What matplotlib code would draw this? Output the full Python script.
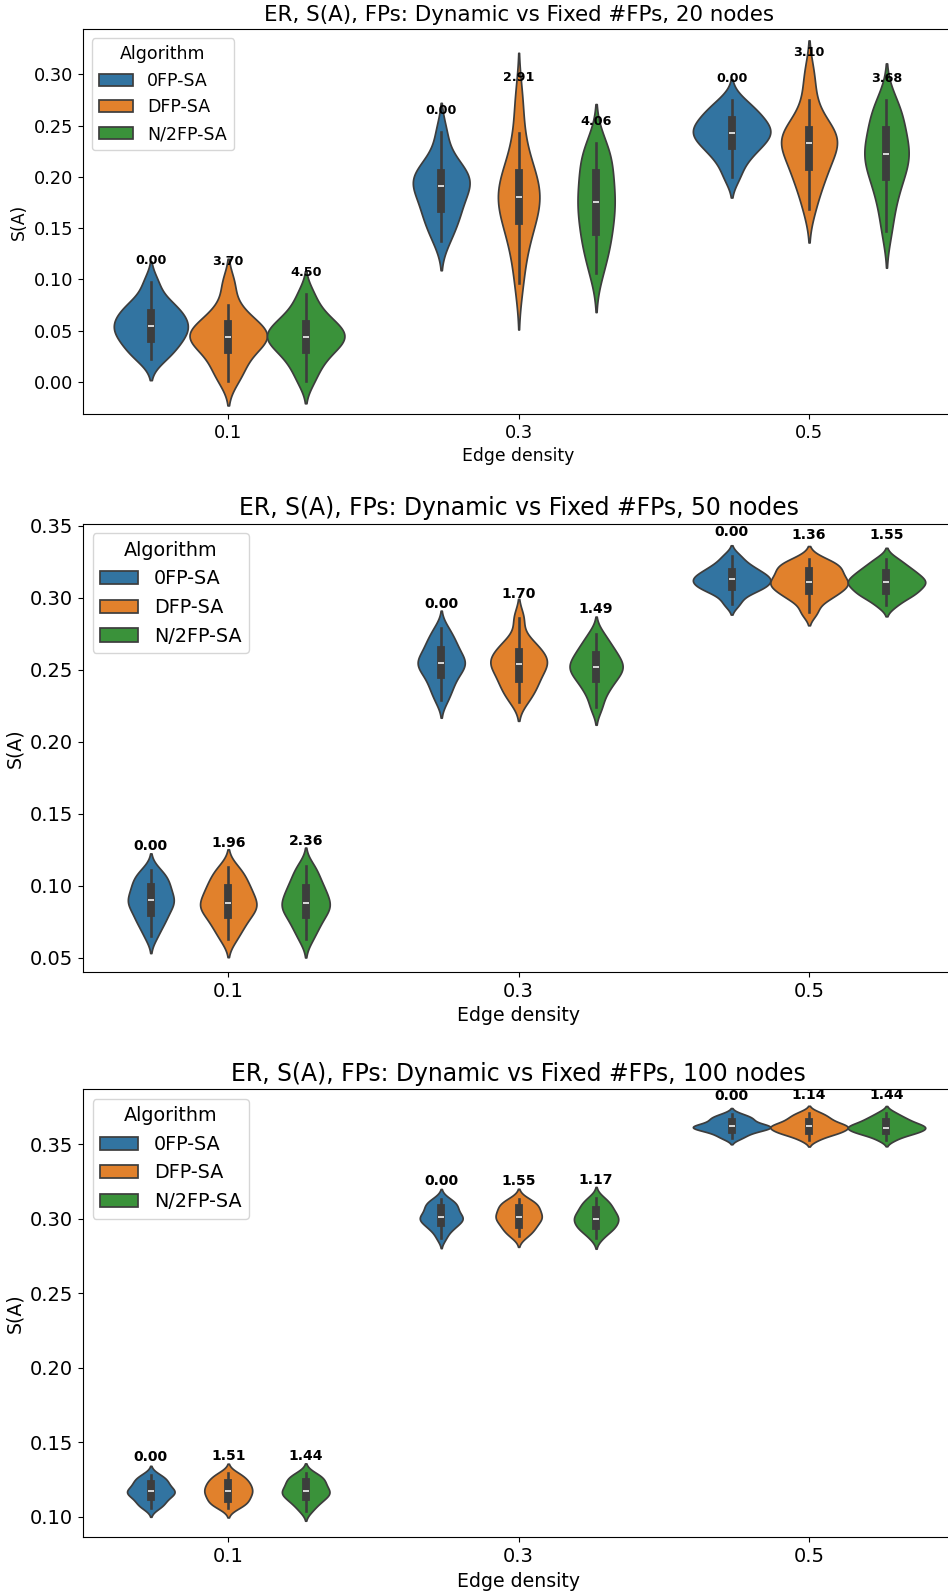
import matplotlib
matplotlib.use("Agg")
import matplotlib.pyplot as plt
import seaborn as sns
import numpy as np
import pandas as pd

densities = ["0.1", "0.3", "0.5"]
algorithms = ["0FP-SA", "DFP-SA", "N/2FP-SA"]
node_counts = [20, 50, 100]

# S(A) samples, one list per edge density (0.1, 0.3, 0.5)
sa20_0fp = [
    [0.022, 0.028, 0.034, 0.039, 0.044, 0.047, 0.051, 0.054, 0.058, 0.062, 0.065, 0.070, 0.075, 0.081, 0.097],
    [0.137, 0.150, 0.158, 0.165, 0.172, 0.179, 0.185, 0.191, 0.194, 0.198, 0.201, 0.206, 0.212, 0.222, 0.244],
    [0.200, 0.214, 0.222, 0.228, 0.232, 0.237, 0.240, 0.243, 0.246, 0.249, 0.253, 0.258, 0.262, 0.267, 0.275],
]
sa20_dfp = [
    [0.001, 0.012, 0.019, 0.029, 0.034, 0.038, 0.041, 0.044, 0.047, 0.050, 0.054, 0.058, 0.064, 0.075, 0.096],
    [0.096, 0.125, 0.140, 0.152, 0.162, 0.169, 0.175, 0.180, 0.186, 0.192, 0.199, 0.208, 0.219, 0.243, 0.276],
    [0.169, 0.188, 0.198, 0.206, 0.214, 0.221, 0.228, 0.233, 0.236, 0.239, 0.243, 0.248, 0.256, 0.275, 0.300],
]
sa20_half = [
    [0.001, 0.014, 0.022, 0.029, 0.034, 0.038, 0.041, 0.044, 0.047, 0.050, 0.054, 0.058, 0.064, 0.072, 0.086],
    [0.106, 0.122, 0.133, 0.142, 0.151, 0.160, 0.168, 0.175, 0.182, 0.189, 0.198, 0.209, 0.216, 0.224, 0.233],
    [0.147, 0.170, 0.184, 0.195, 0.204, 0.211, 0.217, 0.222, 0.227, 0.233, 0.240, 0.251, 0.258, 0.265, 0.275],
]

sa50_0fp = [
    [0.065, 0.072, 0.076, 0.079, 0.083, 0.086, 0.088, 0.090, 0.092, 0.095, 0.098, 0.101, 0.104, 0.107, 0.111],
    [0.229, 0.236, 0.240, 0.245, 0.248, 0.251, 0.253, 0.255, 0.257, 0.259, 0.262, 0.266, 0.269, 0.273, 0.279],
    [0.296, 0.302, 0.305, 0.307, 0.308, 0.310, 0.311, 0.313, 0.314, 0.315, 0.317, 0.319, 0.321, 0.324, 0.329],
]
sa50_dfp = [
    [0.063, 0.070, 0.074, 0.078, 0.082, 0.084, 0.086, 0.088, 0.091, 0.094, 0.097, 0.100, 0.104, 0.108, 0.113],
    [0.228, 0.234, 0.238, 0.242, 0.245, 0.249, 0.252, 0.254, 0.256, 0.258, 0.261, 0.264, 0.267, 0.272, 0.286],
    [0.290, 0.298, 0.301, 0.304, 0.306, 0.308, 0.310, 0.311, 0.313, 0.315, 0.318, 0.320, 0.322, 0.324, 0.327],
]
sa50_half = [
    [0.063, 0.070, 0.074, 0.078, 0.082, 0.084, 0.086, 0.088, 0.091, 0.094, 0.097, 0.100, 0.104, 0.109, 0.114],
    [0.224, 0.233, 0.238, 0.242, 0.245, 0.248, 0.250, 0.252, 0.254, 0.256, 0.259, 0.262, 0.265, 0.269, 0.275],
    [0.295, 0.300, 0.302, 0.304, 0.306, 0.308, 0.310, 0.311, 0.312, 0.314, 0.316, 0.318, 0.320, 0.323, 0.327],
]

sa100_0fp = [
    [0.106, 0.108, 0.110, 0.112, 0.114, 0.115, 0.116, 0.117, 0.118, 0.119, 0.121, 0.123, 0.124, 0.126, 0.128],
    [0.287, 0.292, 0.294, 0.296, 0.298, 0.299, 0.300, 0.301, 0.302, 0.304, 0.306, 0.308, 0.309, 0.311, 0.313],
    [0.354, 0.356, 0.358, 0.359, 0.360, 0.361, 0.361, 0.362, 0.362, 0.363, 0.364, 0.366, 0.367, 0.368, 0.370],
]
sa100_dfp = [
    [0.106, 0.108, 0.110, 0.111, 0.113, 0.115, 0.116, 0.117, 0.119, 0.120, 0.122, 0.123, 0.125, 0.127, 0.129],
    [0.288, 0.291, 0.293, 0.295, 0.297, 0.299, 0.300, 0.301, 0.303, 0.304, 0.306, 0.308, 0.309, 0.311, 0.313],
    [0.353, 0.356, 0.357, 0.358, 0.359, 0.360, 0.361, 0.362, 0.362, 0.363, 0.364, 0.366, 0.367, 0.369, 0.371],
]
sa100_half = [
    [0.104, 0.108, 0.110, 0.112, 0.114, 0.115, 0.116, 0.117, 0.119, 0.120, 0.122, 0.124, 0.125, 0.127, 0.129],
    [0.287, 0.291, 0.293, 0.294, 0.296, 0.298, 0.299, 0.300, 0.302, 0.303, 0.305, 0.307, 0.309, 0.311, 0.314],
    [0.353, 0.356, 0.357, 0.358, 0.359, 0.360, 0.361, 0.361, 0.362, 0.363, 0.364, 0.365, 0.367, 0.368, 0.371],
]

# FP figure printed above each violin (per algorithm, per density)
fp20 = [[0.00, 0.00, 0.00], [3.70, 2.91, 3.10], [4.50, 4.06, 3.68]]
fp50 = [[0.00, 0.00, 0.00], [1.96, 1.70, 1.36], [2.36, 1.49, 1.55]]
fp100 = [[0.00, 0.00, 0.00], [1.51, 1.55, 1.14], [1.44, 1.17, 1.44]]

# samples, labels, ylim, label pad, bw_adjust, font scale
panels = [
    ([sa20_0fp, sa20_dfp, sa20_half], fp20, (-0.0314, 0.3438), 0.021, 0.85, 1.0),
    ([sa50_0fp, sa50_dfp, sa50_half], fp50, (0.0403, 0.3515), 0.017, 0.75, 1.1),
    ([sa100_0fp, sa100_dfp, sa100_half], fp100, (0.0862, 0.3868), 0.012, 0.8, 1.1),
]
boxes = [
    [0.0876, 0.7398, 0.919, 0.2417],
    [0.0876, 0.3891, 0.919, 0.2817],
    [0.0876, 0.0338, 0.919, 0.2816],
]


def to_frame(samples):
    rows = []
    for alg, per_density in zip(algorithms, samples):
        for dens, vals in zip(densities, per_density):
            for v in vals:
                rows.append((dens, alg, v))
    return pd.DataFrame(rows, columns=["Edge density", "Algorithm", "S(A)"])


fig = plt.figure(figsize=(9.48, 15.91), dpi=100)

for (samples, fps, ylim, pad, bw, k), box, n in zip(panels, boxes, node_counts):
    ax = fig.add_axes(box)
    df = to_frame(samples)
    sns.violinplot(data=df, x="Edge density", y="S(A)", hue="Algorithm",
                   order=densities, hue_order=algorithms, bw_adjust=bw, ax=ax)
    ax.set_title(f"ER, S(A), FPs: Dynamic vs Fixed #FPs, {n} nodes",
                 fontsize=15.4 * k)
    ax.set_xlim(-0.5, 2.5)
    ax.set_ylim(*ylim)
    ax.tick_params(labelsize=12.8 * k)
    ax.xaxis.label.set_size(12.4 * k)
    ax.yaxis.label.set_size(12.4 * k)
    sns.move_legend(ax, "upper left", fontsize=12.5 * k, title_fontsize=12.5 * k)

    # FP count above each violin
    for j, alg in enumerate(algorithms):
        for i, dens in enumerate(densities):
            top = max(samples[j][i])
            x = i + (j - 1) * 0.8 / 3
            ax.text(x, top + pad, f"{fps[j][i]:.2f}", ha="center", va="center",
                    fontsize=9.2 * k, fontweight="bold")

fig.savefig("out.png", dpi=100)
